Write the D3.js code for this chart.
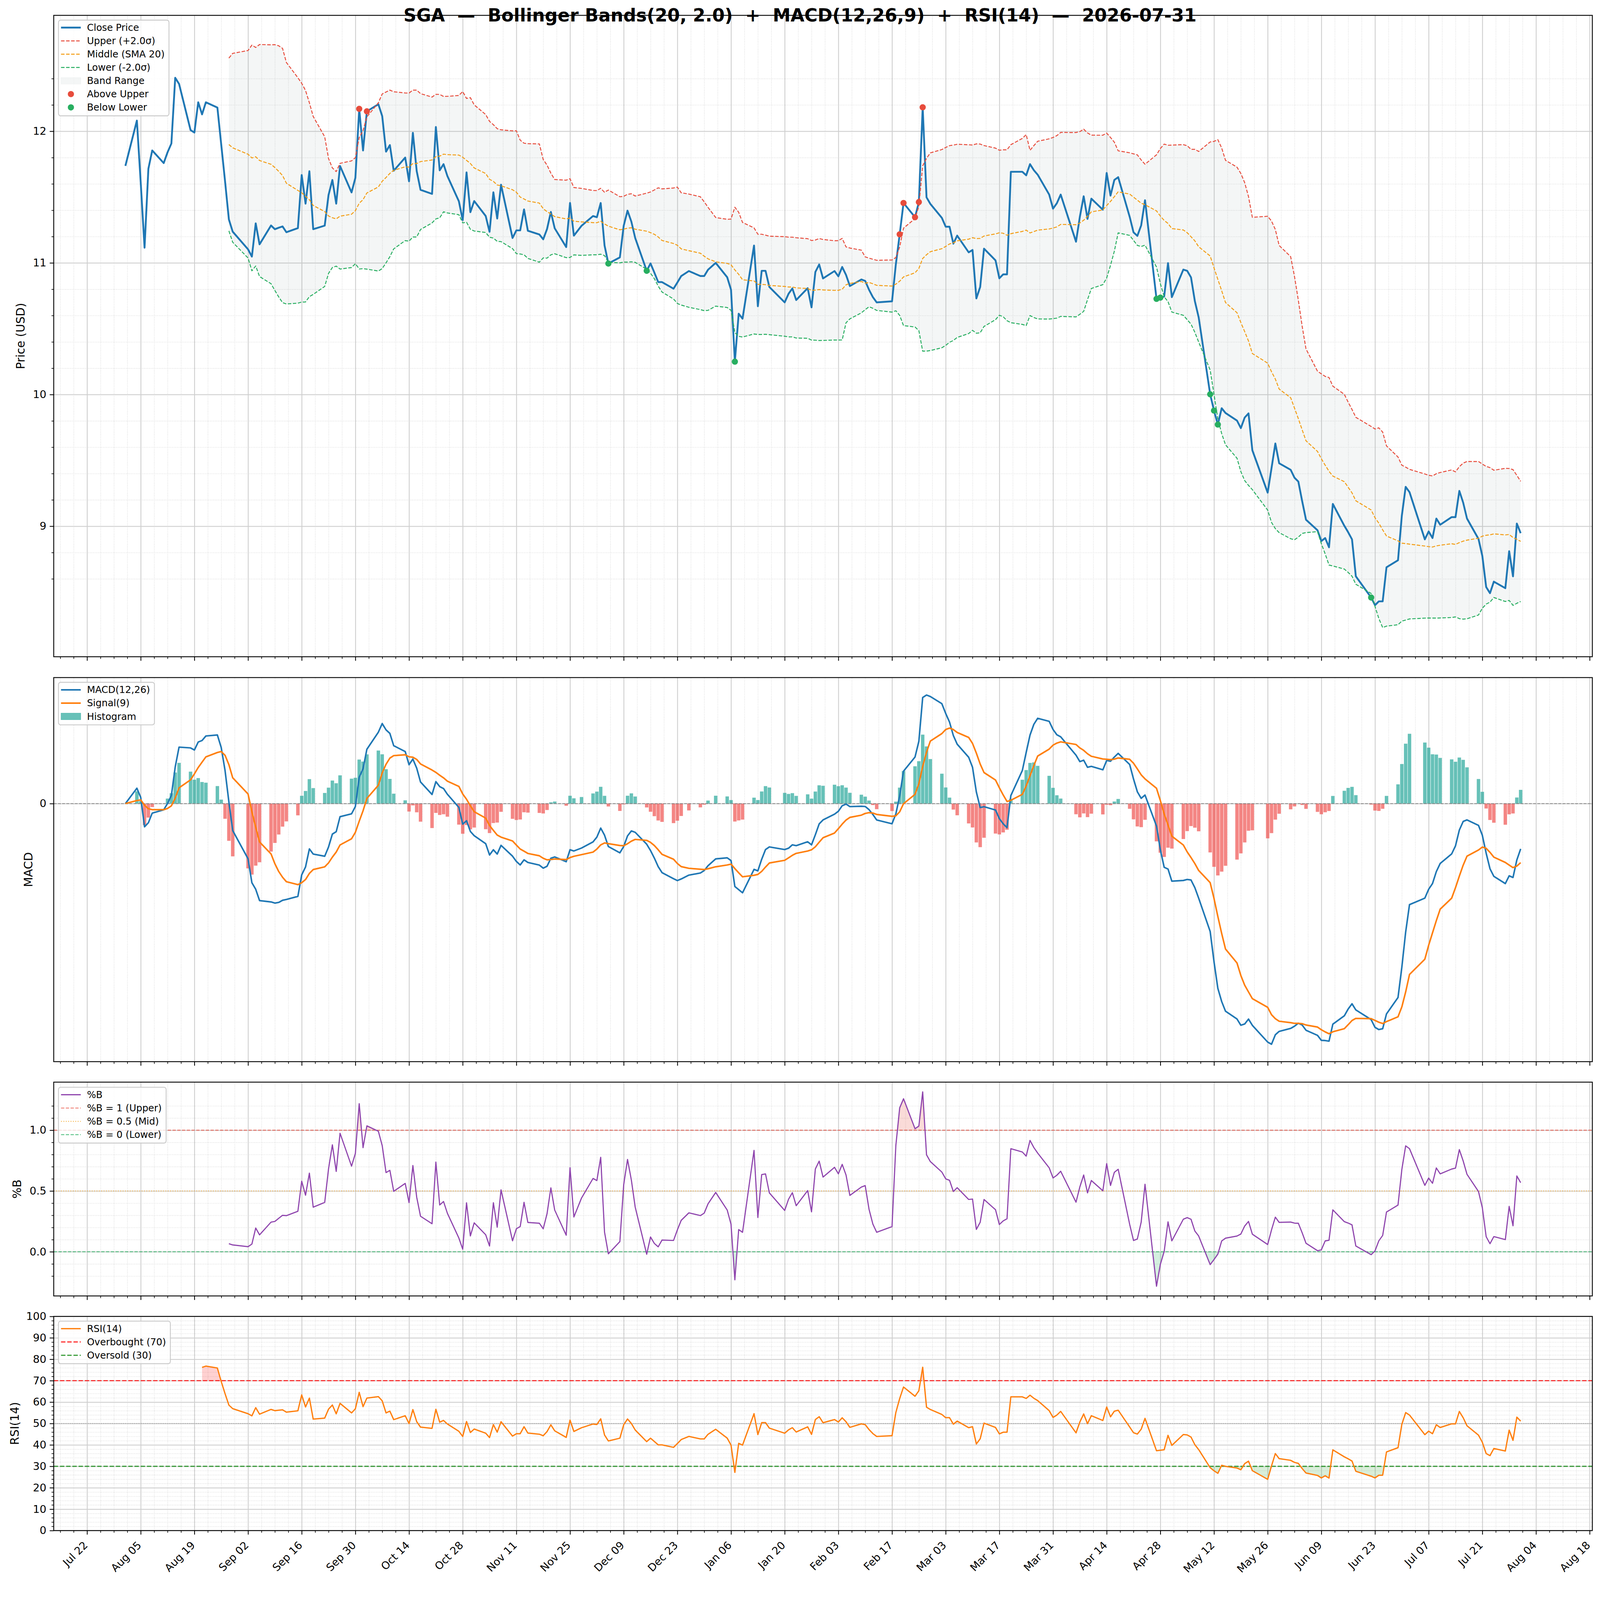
<!DOCTYPE html>
<html>
<head>
<meta charset="utf-8">
<script src="https://cdn.jsdelivr.net/npm/d3@7"></script>
<style>
  html, body { margin: 0; padding: 0; background: #fff; overflow: hidden; }
  #chart { display: block; width: 100vw; height: 100vh; }
  svg text { font-family: "DejaVu Sans", sans-serif; fill: #000; }
</style>
</head>
<body>
<svg id="chart"></svg>
<script>
// SGA daily closes with Bollinger / MACD / %B / RSI panels

const ticker = "SGA"
const firstDay = "2025-08-01"
const lastDay = "2026-07-31"
// exchange closed on these weekdays
const marketHolidays = ["2025-09-01", "2025-11-27", "2025-12-25", "2026-01-01", "2026-01-19",
  "2026-02-16", "2026-04-03", "2026-05-25", "2026-06-19", "2026-07-03"]

// closing prices, one per trading day
const closePrices = [
  // Aug 2025
  11.737, 12.081, 11.61, 11.115, 11.715, 11.854, 11.758, 11.84, 11.907, 12.406, 12.36,
  12.009, 11.99, 12.22, 12.128, 12.22, 12.18, 11.90, 11.62, 11.33, 11.237,
  // Sep
  11.103, 11.048, 11.30, 11.141, 11.284, 11.256, 11.267, 11.277, 11.233, 11.264,
  11.667, 11.45, 11.696, 11.256, 11.283, 11.516, 11.63, 11.45, 11.736, 11.535, 11.646,
  // Oct
  12.17, 11.854, 12.151, 12.205, 12.115, 11.845, 11.895, 11.70, 11.80, 11.62, 11.988, 11.697,
  11.555, 11.524, 12.032, 11.703, 11.75, 11.66, 11.468, 11.325, 11.687, 11.385, 11.47,
  // Nov
  11.356, 11.236, 11.536, 11.337, 11.594, 11.189, 11.247, 11.247, 11.406, 11.244,
  11.216, 11.179, 11.257, 11.387, 11.263, 11.12, 11.455, 11.207, 11.282,
  // Dec
  11.356, 11.347, 11.455, 11.133, 10.995, 11.042, 11.282, 11.397, 11.313, 11.189, 10.94, 10.996,
  10.926, 10.854, 10.854, 10.804, 10.851, 10.90, 10.938, 10.90, 10.90, 10.948,
  // Jan 2026
  11.0, 10.891, 10.796, 10.25, 10.614, 10.576, 11.132, 10.671, 10.94, 10.94,
  10.817, 10.70, 10.765, 10.806, 10.718, 10.808, 10.662, 10.931, 10.988, 10.882,
  // Feb
  10.938, 10.898, 10.969, 10.909, 10.824, 10.874, 10.863, 10.796, 10.74, 10.70,
  10.708, 10.99, 11.217, 11.455, 11.347, 11.462, 12.182, 11.498, 11.448,
  // Mar
  11.342, 11.275, 11.275, 11.146, 11.207, 11.08, 11.098, 10.73, 10.817, 11.108, 11.019,
  10.883, 10.913, 10.913, 11.692, 11.692, 11.665, 11.75, 11.704, 11.67, 11.519, 11.412,
  // Apr
  11.453, 11.519, 11.161, 11.35, 11.506, 11.334, 11.488, 11.404, 11.683, 11.511,
  11.63, 11.651, 11.35, 11.232, 11.205, 11.285, 11.476, 10.727, 10.736, 10.745, 10.998,
  // May
  10.74, 10.949, 10.94, 10.89, 10.71, 10.586, 10.002, 9.878, 9.772, 9.896, 9.86,
  9.802, 9.745, 9.825, 9.857, 9.577, 9.255, 9.44, 9.628, 9.478,
  // Jun
  9.428, 9.368, 9.339, 9.19, 9.049, 8.969, 8.887, 8.91, 8.84, 9.169, 9.003,
  8.954, 8.90, 8.619, 8.458, 8.40, 8.429, 8.429, 8.688, 8.741, 9.08,
  // Jul
  9.299, 9.259, 8.90, 8.96, 8.91, 9.058, 9.011, 9.069, 9.069, 9.268, 9.179,
  9.058, 8.903, 8.774, 8.538, 8.491, 8.579, 8.529, 8.81, 8.619, 9.02, 8.947
]

const xTickDates = ["2025-07-22", "2025-08-05", "2025-08-19", "2025-09-02", "2025-09-16",
  "2025-09-30", "2025-10-14", "2025-10-28", "2025-11-11", "2025-11-25", "2025-12-09",
  "2025-12-23", "2026-01-06", "2026-01-20", "2026-02-03", "2026-02-17", "2026-03-03",
  "2026-03-17", "2026-03-31", "2026-04-14", "2026-04-28", "2026-05-12", "2026-05-26",
  "2026-06-09", "2026-06-23", "2026-07-07", "2026-07-21", "2026-08-04", "2026-08-18"]
const priceTicks = [9, 10, 11, 12]
const macdTicks = [0]
const pctBTicks = [0.0, 0.5, 1.0]
const rsiTicks = [0, 10, 20, 30, 40, 50, 60, 70, 80, 90, 100]

// indicator settings
const bbWindow = 20, bbK = 2.0
const macdFast = 12, macdSlow = 26, macdSig = 9
const rsiLen = 14
const rsiHigh = 70, rsiLow = 30

// ---------- indicators ----------
function rollMean(a, n) {
  return a.map((v, i) => i < n - 1 ? NaN : d3.mean(a.slice(i - n + 1, i + 1)))
}
function rollStd(a, n) {
  return a.map((v, i) => i < n - 1 ? NaN : d3.deviation(a.slice(i - n + 1, i + 1)))
}
function ema(a, span) {
  var k = 2 / (span + 1), out = []
  for (var i = 0; i < a.length; i++) out.push(i == 0 ? a[0] : k * a[i] + (1 - k) * out[i - 1])
  return out
}
function rsiWilder(a, n) {
  var al = 1 / n, g = 0, l = 0, out = [NaN]
  for (var i = 1; i < a.length; i++) {
    var d = a[i] - a[i - 1], gi = Math.max(d, 0), li = Math.max(-d, 0)
    if (i == 1) { g = gi; l = li } else { g = (1 - al) * g + al * gi; l = (1 - al) * l + al * li }
    out.push(i >= n ? (l == 0 ? 100 : 100 - 100 / (1 + g / l)) : NaN)
  }
  return out
}

const parse = d3.utcParse("%Y-%m-%d")
const fmtDay = d3.utcFormat("%Y-%m-%d")
const days = d3.utcDays(parse(firstDay), d3.utcDay.offset(parse(lastDay), 1))
  .filter(d => d.getUTCDay() != 0 && d.getUTCDay() != 6 && marketHolidays.indexOf(fmtDay(d)) == -1)
if (days.length != closePrices.length) console.error("date/price length mismatch", days.length, closePrices.length)

const mid = rollMean(closePrices, bbWindow)
const sd = rollStd(closePrices, bbWindow)
const upper = mid.map((m, i) => m + bbK * sd[i])
const lower = mid.map((m, i) => m - bbK * sd[i])
const pctB = closePrices.map((c, i) => (c - lower[i]) / (upper[i] - lower[i]))
const emaF = ema(closePrices, macdFast), emaS = ema(closePrices, macdSlow)
const macd = emaF.map((v, i) => v - emaS[i])
const signal = ema(macd, macdSig)
const hist = macd.map((v, i) => v - signal[i])
const rsi = rsiWilder(closePrices, rsiLen)

const rows = days.map((d, i) => ({
  date: d, close: closePrices[i], mid: mid[i], upper: upper[i], lower: lower[i],
  pctB: pctB[i], macd: macd[i], signal: signal[i], hist: hist[i], rsi: rsi[i]
}))

// ---------- layout ----------
const W = 4378, H = 4322
const plotL = 147, plotR = 4357
const P = {
  price: { top: 42, bottom: 1797 },
  macd: { top: 1854, bottom: 2905 },
  pctb: { top: 2961, bottom: 3546 },
  rsi: { top: 3602, bottom: 4188 }
}
const tickFs = 29, legendFs = 26, labelFs = 32

const svg = d3.select("#chart")
  .attr("viewBox", "0 0 " + W + " " + H).attr("preserveAspectRatio", "xMinYMin meet")

const dayMs = 864e5, barHalf = 0.45 * dayMs
const t0 = +days[0] - barHalf, t1 = +days[days.length - 1] + barHalf
const xPad = 0.05 * (t1 - t0)
const x = d3.scaleUtc().domain([new Date(t0 - xPad), new Date(t1 + xPad)]).range([plotL, plotR])

function padded(vals, top, bottom) {
  var lo = d3.min(vals), hi = d3.max(vals), p = 0.05 * (hi - lo)
  return d3.scaleLinear().domain([lo - p, hi + p]).range([bottom, top])
}
const ok = v => !isNaN(v)
const yPrice = padded(closePrices.concat(upper.filter(ok), lower.filter(ok)), P.price.top, P.price.bottom)
const yMacd = padded(macd.concat(signal, hist, [0]), P.macd.top, P.macd.bottom)
const yPctB = padded(pctB.filter(ok), P.pctb.top, P.pctb.bottom)
const yRsi = d3.scaleLinear().domain([0, 100]).range([P.rsi.bottom, P.rsi.top])

const majorDates = xTickDates.map(parse)
const minorDates = []
for (var t = +majorDates[0] - 14 * dayMs; t <= +x.domain()[1]; t += 3.5 * dayMs) {
  if (t >= +x.domain()[0] && Math.round((t - majorDates[0]) / (3.5 * dayMs)) % 4 != 0) minorDates.push(new Date(t))
}
function minorOf(ticks, n) {
  var out = [], step = (ticks[1] - ticks[0]) / n
  for (var i = 0; i < ticks.length - 1; i++)
    for (var j = 1; j < n; j++) out.push(ticks[i] + j * step)
  out.push(ticks[0] - step * 2, ticks[0] - step, ticks[ticks.length - 1] + step, ticks[ticks.length - 1] + step * 2)
  return out
}

function panel(name, y, yMajor, yMinor, yFmt, ylabel, labelX, showX) {
  var p = P[name]
  var g = svg.append("g")
  var w = plotR - plotL
  var inY = v => y(v) >= p.top - 0.5 && y(v) <= p.bottom + 0.5
  yMinor = yMinor.filter(inY)
  // grids
  g.append("g").attr("transform", "translate(0," + p.bottom + ")")
    .call(d3.axisBottom(x).tickValues(minorDates).tickSize(-(p.bottom - p.top)).tickFormat(""))
    .call(s => s.select(".domain").remove())
    .selectAll("line").attr("stroke", "#d9d9d9").attr("stroke-width", 1.7).attr("stroke-dasharray", "1.7,2.8")
  g.append("g").attr("transform", "translate(" + plotL + ",0)")
    .call(d3.axisLeft(y).tickValues(yMinor).tickSize(-w).tickFormat(""))
    .call(s => s.select(".domain").remove())
    .selectAll("line").attr("stroke", "#d9d9d9").attr("stroke-width", 1.7).attr("stroke-dasharray", "1.7,2.8")
  g.append("g").attr("transform", "translate(0," + p.bottom + ")")
    .call(d3.axisBottom(x).tickValues(majorDates.filter(d => d >= x.domain()[0] && d <= x.domain()[1])).tickSize(-(p.bottom - p.top)).tickFormat(""))
    .call(s => s.select(".domain").remove())
    .selectAll("line").attr("stroke", "#cfcfcf").attr("stroke-width", 2.4)
  g.append("g").attr("transform", "translate(" + plotL + ",0)")
    .call(d3.axisLeft(y).tickValues(yMajor).tickSize(-w).tickFormat(""))
    .call(s => s.select(".domain").remove())
    .selectAll("line").attr("stroke", "#cfcfcf").attr("stroke-width", 2.4)

  var clipId = "clip-" + name
  svg.append("clipPath").attr("id", clipId).append("rect")
    .attr("x", plotL).attr("y", p.top).attr("width", w).attr("height", p.bottom - p.top)
  var body = svg.append("g").attr("clip-path", "url(#" + clipId + ")")

  var frame = svg.append("g")
  // spines
  frame.append("rect").attr("x", plotL).attr("y", p.top).attr("width", w).attr("height", p.bottom - p.top)
    .attr("fill", "none").attr("stroke", "#000").attr("stroke-width", 2.4)
  // y ticks
  var ya = frame.append("g").attr("transform", "translate(" + plotL + ",0)")
    .call(d3.axisLeft(y).tickValues(yMajor).tickSize(11).tickPadding(9).tickFormat(yFmt))
  ya.select(".domain").remove()
  ya.selectAll("line").attr("stroke", "#000").attr("stroke-width", 2.2)
  ya.selectAll("text").attr("font-size", tickFs).attr("font-family", "DejaVu Sans")
  if (yMinor.length) {
    var ym = frame.append("g").attr("transform", "translate(" + plotL + ",0)")
      .call(d3.axisLeft(y).tickValues(yMinor).tickSize(6).tickFormat(""))
    ym.select(".domain").remove()
    ym.selectAll("line").attr("stroke", "#000").attr("stroke-width", 1.7)
  }
  // x ticks
  var xa = frame.append("g").attr("transform", "translate(0," + p.bottom + ")")
    .call(d3.axisBottom(x).tickValues(majorDates).tickSize(11).tickPadding(8)
      .tickFormat(showX ? d3.utcFormat("%b %d") : ""))
  xa.select(".domain").remove()
  xa.selectAll("line").attr("stroke", "#000").attr("stroke-width", 2.2)
  if (showX) {
    xa.selectAll("text").attr("font-size", tickFs).attr("font-family", "DejaVu Sans")
      .attr("text-anchor", "end").attr("dy", null).attr("y", null)
      .attr("transform", "translate(3,42) rotate(-45)")
  }
  var xm = frame.append("g").attr("transform", "translate(0," + p.bottom + ")")
    .call(d3.axisBottom(x).tickValues(minorDates).tickSize(6).tickFormat(""))
  xm.select(".domain").remove()
  xm.selectAll("line").attr("stroke", "#000").attr("stroke-width", 1.7)

  frame.append("text").attr("font-size", labelFs).attr("text-anchor", "middle")
    .attr("dominant-baseline", "central")
    .attr("transform", "translate(" + labelX + "," + ((p.top + p.bottom) / 2) + ") rotate(-90)")
    .text(ylabel)
  return { body: body, frame: frame, p: p }
}

function legend(g, x0, y0, entries) {
  var rowH = 36.4
  var lg = g.append("g")
  var box = lg.append("rect").attr("x", x0).attr("y", y0).attr("rx", 6)
    .attr("fill", "#fff").attr("fill-opacity", 0.8).attr("stroke", "#cccccc").attr("stroke-width", 2.5)
  var maxW = 0
  entries.forEach(function (e, i) {
    var cy = y0 + 20.5 + i * rowH
    if (e.type == "line") {
      lg.append("line").attr("x1", x0 + 7).attr("x2", x0 + 61).attr("y1", cy).attr("y2", cy)
        .attr("stroke", e.color).attr("stroke-width", e.width).attr("stroke-dasharray", e.dash || null)
        .attr("stroke-opacity", e.opacity || 1)
    } else if (e.type == "patch") {
      lg.append("rect").attr("x", x0 + 7).attr("y", cy - 9).attr("width", 54).attr("height", 18)
        .attr("fill", e.color).attr("fill-opacity", e.opacity).attr("stroke", e.color).attr("stroke-opacity", e.opacity)
    } else {
      lg.append("circle").attr("cx", x0 + 34).attr("cy", cy).attr("r", 8.5).attr("fill", e.color)
    }
    var t = lg.append("text").attr("x", x0 + 78).attr("y", cy).attr("dominant-baseline", "central")
      .attr("font-size", legendFs).text(e.label)
    maxW = Math.max(maxW, t.node().getComputedTextLength())
  })
  box.attr("width", 78 + maxW + 12).attr("height", 43.5 + (entries.length - 1) * rowH)
}

// areas that only show where the value is past a threshold
function thresholdFill(body, key, y, thr, above, color, op, p) {
  var cid = "cl-" + key + "-" + thr
  var r = svg.append("clipPath").attr("id", cid).append("rect").attr("x", plotL).attr("width", plotR - plotL)
  if (above) r.attr("y", p.top).attr("height", y(thr) - p.top)
  else r.attr("y", y(thr)).attr("height", p.bottom - y(thr))
  body.append("path").datum(rows)
    .attr("clip-path", "url(#" + cid + ")")
    .attr("fill", color).attr("fill-opacity", op)
    .attr("d", d3.area().defined(d => ok(d[key])).x(d => x(d.date)).y0(y(thr)).y1(d => y(d[key])))
}

const lineOf = (key, y) => d3.line().defined(d => ok(d[key])).x(d => x(d.date)).y(d => y(d[key]))

// ---------- price panel ----------
const pp = panel("price", yPrice, priceTicks, minorOf(priceTicks, 5), d3.format("d"), "Price (USD)", 56, false)
pp.body.append("path").datum(rows)
  .attr("fill", "#95a5a6").attr("fill-opacity", 0.1)
  .attr("d", d3.area().defined(d => ok(d.upper)).x(d => x(d.date)).y0(d => yPrice(d.lower)).y1(d => yPrice(d.upper)))
pp.body.append("path").datum(rows).attr("fill", "none").attr("stroke", "#1f77b4").attr("stroke-width", 5)
  .attr("stroke-linejoin", "round").attr("d", lineOf("close", yPrice))
const bandLines = [["upper", "#e74c3c"], ["mid", "#f39c12"], ["lower", "#27ae60"]]
bandLines.forEach(function (b) {
  pp.body.append("path").datum(rows).attr("fill", "none").attr("stroke", b[1]).attr("stroke-width", 2.6)
    .attr("stroke-dasharray", "9.6,4.2").attr("stroke-linejoin", "round").attr("d", lineOf(b[0], yPrice))
})
pp.body.selectAll(".above").data(rows.filter(d => d.close > d.upper)).join("circle")
  .attr("cx", d => x(d.date)).attr("cy", d => yPrice(d.close)).attr("r", 8.5).attr("fill", "#e74c3c")
pp.body.selectAll(".below").data(rows.filter(d => d.close < d.lower)).join("circle")
  .attr("cx", d => x(d.date)).attr("cy", d => yPrice(d.close)).attr("r", 8.5).attr("fill", "#27ae60")
legend(pp.frame, 160, 55, [
  { label: "Close Price", type: "line", color: "#1f77b4", width: 5 },
  { label: "Upper (+2.0σ)", type: "line", color: "#e74c3c", width: 2.6, dash: "9.6,4.2" },
  { label: "Middle (SMA 20)", type: "line", color: "#f39c12", width: 2.6, dash: "9.6,4.2" },
  { label: "Lower (-2.0σ)", type: "line", color: "#27ae60", width: 2.6, dash: "9.6,4.2" },
  { label: "Band Range", type: "patch", color: "#95a5a6", opacity: 0.1 },
  { label: "Above Upper", type: "marker", color: "#e74c3c" },
  { label: "Below Lower", type: "marker", color: "#27ae60" }
])

// ---------- MACD panel ----------
const mp = panel("macd", yMacd, macdTicks, [], d3.format("d"), "MACD", 77, false)
mp.body.selectAll(".bar").data(rows).join("rect")
  .attr("x", d => x(new Date(+d.date - barHalf)))
  .attr("width", d => x(new Date(+d.date + barHalf)) - x(new Date(+d.date - barHalf)))
  .attr("y", d => yMacd(Math.max(0, d.hist)))
  .attr("height", d => Math.abs(yMacd(d.hist) - yMacd(0)))
  .attr("fill", d => d.hist >= 0 ? "#26a69a" : "#ef5350").attr("fill-opacity", 0.7)
mp.body.append("line").attr("x1", plotL).attr("x2", plotR).attr("y1", yMacd(0)).attr("y2", yMacd(0))
  .attr("stroke", "#808080").attr("stroke-width", 2.2).attr("stroke-dasharray", "8,3.5").attr("stroke-opacity", 0.85)
mp.body.append("path").datum(rows).attr("fill", "none").attr("stroke", "#1f77b4").attr("stroke-width", 4.2)
  .attr("stroke-linejoin", "round").attr("d", lineOf("macd", yMacd))
mp.body.append("path").datum(rows).attr("fill", "none").attr("stroke", "#ff7f0e").attr("stroke-width", 4.2)
  .attr("stroke-linejoin", "round").attr("d", lineOf("signal", yMacd))
legend(mp.frame, 160, 1867, [
  { label: "MACD(12,26)", type: "line", color: "#1f77b4", width: 4.2 },
  { label: "Signal(9)", type: "line", color: "#ff7f0e", width: 4.2 },
  { label: "Histogram", type: "patch", color: "#26a69a", opacity: 0.7 }
])

// ---------- %B panel ----------
const bp = panel("pctb", yPctB, pctBTicks, minorOf(pctBTicks, 5), d3.format(".1f"), "%B", 46, false)
thresholdFill(bp.body, "pctB", yPctB, 1, true, "#e74c3c", 0.2, bp.p)
thresholdFill(bp.body, "pctB", yPctB, 0, false, "#27ae60", 0.2, bp.p)
const pctRefs = [[1, "#e74c3c", "9,4"], [0.5, "#f39c12", "2.5,4"], [0, "#27ae60", "9,4"]]
pctRefs.forEach(function (r) {
  bp.body.append("line").attr("x1", plotL).attr("x2", plotR).attr("y1", yPctB(r[0])).attr("y2", yPctB(r[0]))
    .attr("stroke", r[1]).attr("stroke-width", 2.6).attr("stroke-dasharray", r[2]).attr("stroke-opacity", 0.7)
})
bp.body.append("path").datum(rows).attr("fill", "none").attr("stroke", "#8e44ad").attr("stroke-width", 3.1)
  .attr("stroke-linejoin", "round").attr("d", lineOf("pctB", yPctB))
legend(bp.frame, 160, 2975, [
  { label: "%B", type: "line", color: "#8e44ad", width: 3.1 },
  { label: "%B = 1 (Upper)", type: "line", color: "#e74c3c", width: 2.6, dash: "9,4", opacity: 0.7 },
  { label: "%B = 0.5 (Mid)", type: "line", color: "#f39c12", width: 2.6, dash: "2.5,4", opacity: 0.7 },
  { label: "%B = 0 (Lower)", type: "line", color: "#27ae60", width: 2.6, dash: "9,4", opacity: 0.7 }
])

// ---------- RSI panel ----------
const rp = panel("rsi", yRsi, rsiTicks, minorOf(rsiTicks, 5), d3.format("d"), "RSI(14)", 40, true)
thresholdFill(rp.body, "rsi", yRsi, rsiHigh, true, "#ff0000", 0.18, rp.p)
thresholdFill(rp.body, "rsi", yRsi, rsiLow, false, "#2ca02c", 0.18, rp.p)
rp.body.append("line").attr("x1", plotL).attr("x2", plotR).attr("y1", yRsi(50)).attr("y2", yRsi(50))
  .attr("stroke", "#999").attr("stroke-width", 2.2).attr("stroke-dasharray", "2,3")
rp.body.append("line").attr("x1", plotL).attr("x2", plotR).attr("y1", yRsi(rsiHigh)).attr("y2", yRsi(rsiHigh))
  .attr("stroke", "#ff0000").attr("stroke-width", 3.3).attr("stroke-dasharray", "12,5").attr("stroke-opacity", 0.75)
rp.body.append("line").attr("x1", plotL).attr("x2", plotR).attr("y1", yRsi(rsiLow)).attr("y2", yRsi(rsiLow))
  .attr("stroke", "#008000").attr("stroke-width", 3.3).attr("stroke-dasharray", "12,5").attr("stroke-opacity", 0.75)
rp.body.append("path").datum(rows).attr("fill", "none").attr("stroke", "#ff7f0e").attr("stroke-width", 3.5)
  .attr("stroke-linejoin", "round").attr("d", lineOf("rsi", yRsi))
legend(rp.frame, 160, 3615, [
  { label: "RSI(14)", type: "line", color: "#ff7f0e", width: 3.5 },
  { label: "Overbought (70)", type: "line", color: "#ff0000", width: 3.3, dash: "12,5", opacity: 0.75 },
  { label: "Oversold (30)", type: "line", color: "#008000", width: 3.3, dash: "12,5", opacity: 0.75 }
])

// ---------- title ----------
svg.append("text").attr("x", W / 2).attr("y", 59).attr("text-anchor", "middle")
  .attr("font-size", 49).attr("font-weight", "bold").style("white-space", "pre")
  .text(ticker + "  —  Bollinger Bands(20, 2.0)  +  MACD(12,26,9)  +  RSI(14)  —  " + lastDay)
</script>
</body>
</html>
